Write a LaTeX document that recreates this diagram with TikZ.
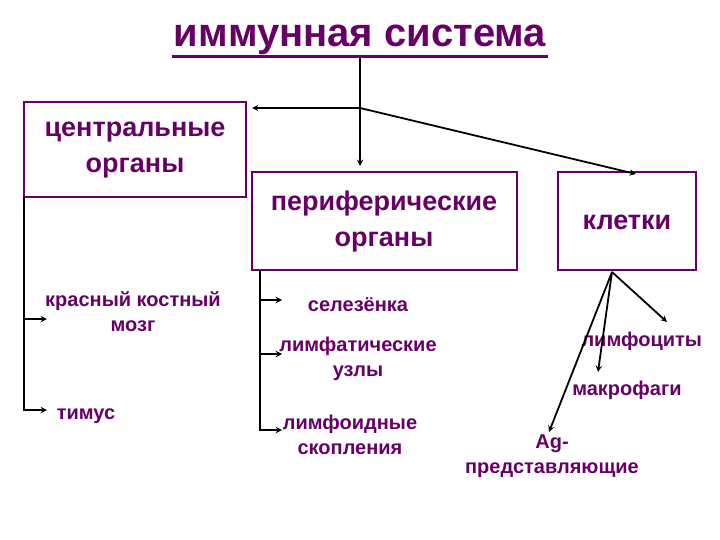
\documentclass[tikz,border=0pt]{standalone}
\usepackage{fontspec}
\setmainfont{Liberation Sans}
\definecolor{pur}{HTML}{660066}
\begin{document}
\begin{tikzpicture}[x=1pt,y=-1pt,
 box/.style={draw=pur,line width=2pt,fill=white},
 big/.style={text=pur,font=\fontsize{27}{36}\selectfont\bfseries,align=center},
 sm/.style={text=pur,font=\fontsize{20}{25}\selectfont\bfseries,align=center},
 arr/.style={->,>=stealth,line width=1.8pt,black}]
\useasboundingbox (0,0) rectangle (720,540);
\clip (0,0) rectangle (720,540);
\node[text=pur,font=\fontsize{40}{44}\selectfont\bfseries] (title) at (360,40) {иммунная система};
\draw[pur,line width=3pt] (172,57) -- (548,57);
\draw[box] (24,102) rectangle (246,197); \node[big] (c) at (135,150) {центральные\\органы};
\draw[box] (252,172) rectangle (517,270); \node[big] (p) at (384,222) {периферические\\органы};
\draw[box] (558,172) rectangle (696,270); \node[big] (k) at (627,222) {клетки};
\coordinate (t) at (360,58); \coordinate (j) at (360,108);
\draw[line width=1.8pt] (t) -- (j);
\draw[arr] (j) -- (360,166);
\draw[arr] (j) -- (252,108);
\draw[arr] (j) -- (636,174);
\node[sm] (kk) at (133,312) {красный костный\\мозг};
\node[sm] (ti) at (86,416) {тимус};
\draw[line width=1.8pt] (24,197) -- (24,411);
\draw[arr] (24,319) -- (47,319);
\draw[arr] (24,410) -- (47,410);
\node[sm] (se) at (358,305) {селезёнка};
\node[sm] (lu) at (358,359) {лимфатические\\узлы};
\node[sm] (ls) at (350,435) {лимфоидные\\скопления};
\draw[line width=1.8pt] (260,270) -- (260,431);
\draw[arr] (260,300) -- (282,300);
\draw[arr] (260,354) -- (282,354);
\draw[arr] (260,430) -- (282,430);
\coordinate (o) at (612,272);
\node[sm,anchor=west] (ly) at (578,341) {лимфоциты};
\node[sm] (ma) at (627,390) {макрофаги};
\node[sm] (ag) at (552,456) {Ag-\\представляющие};
\draw[arr] (o) -- (667,322);
\draw[arr] (o) -- (598,372);
\draw[arr] (o) -- (549,432);
\end{tikzpicture}
\end{document}
